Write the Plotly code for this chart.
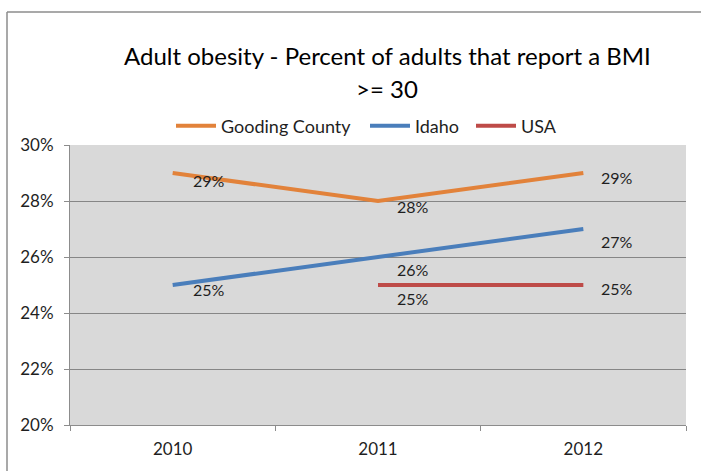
import plotly.graph_objects as go

years = ["2010", "2011", "2012"]
gooding = [29, 28, 29]
idaho = [25, 26, 27]
usa = [None, 25, 25]

series = [
    ("Gooding County", gooding, "#E2823A"),
    ("Idaho", idaho, "#4A7EBB"),
    ("USA", usa, "#BE4B48"),
]

title_lines = ["Adult obesity - Percent of adults that report a BMI", ">= 30"]

# pixel nudges for the value labels (dx, dy), per series and year
label_nudge = {
    "Gooding County": [(18, -7), (17, -5), (16, -4)],
    "Idaho": [(18, -4), (17, -12), (16, -12)],
    "USA": [(18, -4), (17, -13), (16, -3)],
}
# left edge (px) of each legend entry's text
legend_text_x = [221, 415, 521]

FONT = "Lato, sans-serif"
TXT = "#1f1f1f"

L, R, T, B = 70, 15, 145, 46
W, H = 701, 471
pw, ph = W - L - R, H - T - B


def py(px_from_top):
    """Convert a pixel row of the page to paper y."""
    return 1 + (T - px_from_top) / ph


fig = go.Figure()
annotations = []
legends = {}
for k, (name, vals, color) in enumerate(series):
    lg = "legend" if k == 0 else f"legend{k + 1}"
    fig.add_trace(go.Scatter(
        x=years, y=vals, name=name, mode="lines",
        line=dict(color=color, width=4),
        connectgaps=False, legend=lg,
    ))
    legends[lg] = dict(
        orientation="h", x=(legend_text_x[k] - 50 - L) / pw, xanchor="left",
        y=py(126), yanchor="middle",
        font=dict(family=FONT, size=18, color=TXT),
        bgcolor="rgba(0,0,0,0)", itemwidth=40,
    )
    for i, v in enumerate(vals):
        if v is None:
            continue
        dx, dy = label_nudge[name][i]
        # category axes place annotations by category index
        annotations.append(dict(
            x=i, y=v, xref="x", yref="y", text=f"{v}%",
            showarrow=False, xanchor="left", yanchor="middle",
            xshift=dx, yshift=dy,
            font=dict(family=FONT, size=16, color=TXT),
        ))

# two-line chart title
for text, row in zip(title_lines, [55, 88]):
    annotations.append(dict(
        x=(387 - L) / pw, y=py(row), xref="paper", yref="paper",
        text=text, showarrow=False, xanchor="center", yanchor="middle",
        font=dict(family=FONT, size=24, color="#000000"),
    ))

# outer chart border (left and top edges visible)
bx0 = (7 - L) / pw
by_top = py(12)
by_bot = -(B + 5) / ph
shapes = [
    dict(type="line", xref="paper", yref="paper", x0=bx0, x1=bx0,
         y0=by_bot, y1=by_top, line=dict(color="#8c8c8c", width=1.5)),
    dict(type="line", xref="paper", yref="paper", x0=bx0, x1=1 + (R + 5) / pw,
         y0=by_top, y1=by_top, line=dict(color="#8c8c8c", width=1.5)),
]

fig.update_layout(
    width=W, height=H,
    margin=dict(l=L, r=R, t=T, b=B),
    paper_bgcolor="white",
    plot_bgcolor="#D9D9D9",
    xaxis=dict(
        type="category", tickson="boundaries", ticks="outside", ticklen=5,
        tickcolor="#8c8c8c", showgrid=False, showline=True,
        linecolor="#8c8c8c", linewidth=1, range=[-0.5, 2.5],
        ticklabelstandoff=9,
        tickfont=dict(family=FONT, size=17, color=TXT),
    ),
    yaxis=dict(
        range=[20, 30], dtick=2, ticksuffix="%", ticks="outside", ticklen=5,
        tickcolor="#8c8c8c", showgrid=True, gridcolor="#868686", gridwidth=1,
        showline=True, linecolor="#8c8c8c", linewidth=1, zeroline=False,
        ticklabelstandoff=7,
        tickfont=dict(family=FONT, size=17, color=TXT),
    ),
    annotations=annotations,
    shapes=shapes,
    showlegend=True,
    **legends,
)

fig.write_html("out.html")
